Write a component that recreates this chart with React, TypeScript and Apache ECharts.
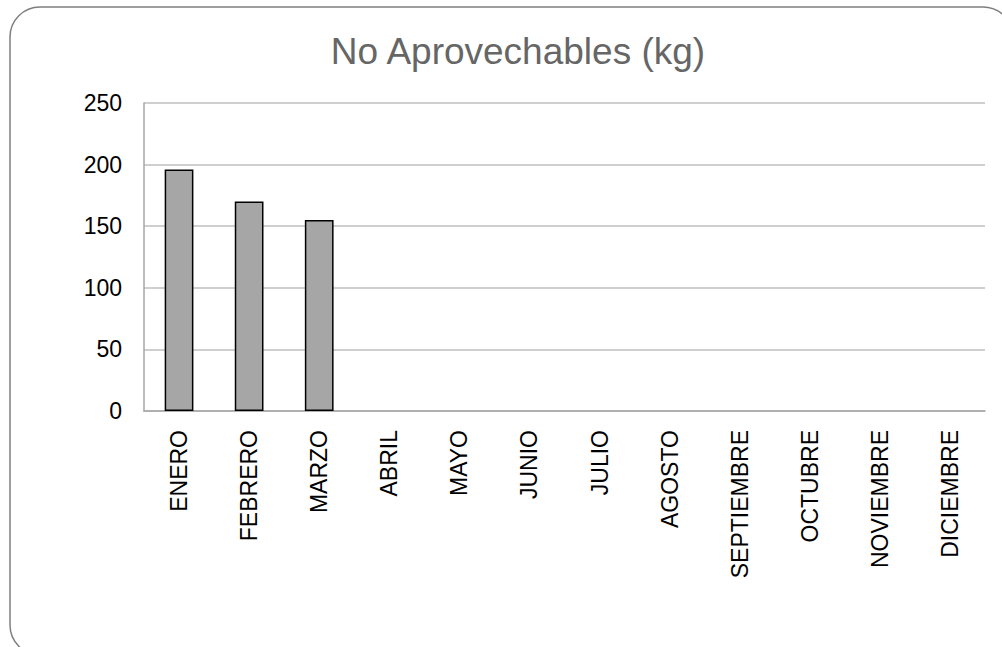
import React, { useEffect, useRef } from "react";
import * as echarts from "echarts";

const categories = ["ENERO", "FEBRERO", "MARZO", "ABRIL", "MAYO", "JUNIO", "JULIO", "AGOSTO", "SEPTIEMBRE", "OCTUBRE", "NOVIEMBRE", "DICIEMBRE"];
const values: (number | null)[] = [196, 170, 155, null, null, null, null, null, null, null, null, null];
const title = "No Aprovechables (kg)";

export default function App() {
  const ref = useRef<HTMLDivElement>(null);
  useEffect(() => {
    if (!ref.current) return;
    const chart = echarts.init(ref.current, null, { renderer: "svg" });
    chart.setOption({
      animation: false,
      backgroundColor: "#ffffff",
      title: {
        text: title,
        left: 513,
        textAlign: "center",
        top: 28,
        textStyle: { fontFamily: "Liberation Sans, Arial, sans-serif", fontSize: 37, fontWeight: "normal", color: "#666666" },
      },
      graphic: [
        {
          type: "rect",
          shape: { x: 10, y: 7, width: 1003, height: 648, r: 30 },
          style: { fill: "none", stroke: "#7f7f7f", lineWidth: 1.5 },
          silent: true,
          z: 100,
        },
      ],
      grid: { left: 144, right: 17, top: 103, bottom: 236 },
      xAxis: {
        type: "category",
        data: categories,
        axisLine: { show: true, lineStyle: { color: "#a6a6a6", width: 1.5 } },
        axisTick: { show: false },
        axisLabel: {
          rotate: 90,
          margin: 19,
          interval: 0,
          color: "#000000",
          fontSize: 23,
          fontFamily: "Liberation Sans, Arial, sans-serif",
        },
      },
      yAxis: {
        type: "value",
        min: 0,
        max: 250,
        interval: 50,
        axisLine: { show: true, lineStyle: { color: "#a6a6a6", width: 1.5 } },
        axisTick: { show: false },
        splitLine: { show: true, lineStyle: { color: "#bfbfbf", width: 1.5 } },
        axisLabel: {
          margin: 22,
          color: "#000000",
          fontSize: 23,
          fontFamily: "Liberation Sans, Arial, sans-serif",
        },
      },
      series: [
        {
          type: "bar",
          data: values,
          barWidth: "41%",
          itemStyle: { color: "#a6a6a6", borderColor: "#000000", borderWidth: 1.5 },
        },
      ],
    });
    return () => chart.dispose();
  }, []);
  return <div ref={ref} style={{ position: "absolute", left: 0, top: 0, width: 1002, height: 647 }} />;
}
